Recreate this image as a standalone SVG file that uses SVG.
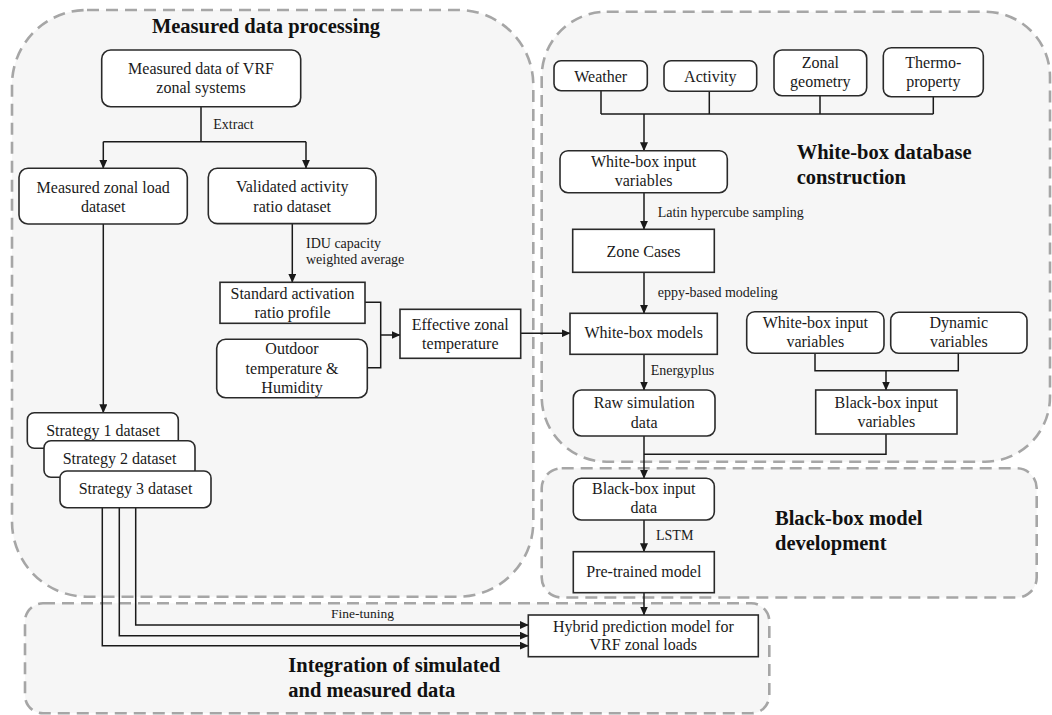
<svg xmlns="http://www.w3.org/2000/svg" width="1052" height="715" viewBox="0 0 1052 715">
<defs>
<marker id="arr" markerUnits="userSpaceOnUse" markerWidth="9" markerHeight="8" refX="8.5" refY="4" orient="auto">
<path d="M0,0 L9,4 L0,8 z" fill="#1a1a1a"/>
</marker>
<style>
.region{fill:#f6f6f6;stroke:#a6a6a6;stroke-width:2.6;stroke-dasharray:12 7}
.box{fill:#ffffff;stroke:#2a2a2a;stroke-width:1.6}
.t{font-family:"Liberation Serif","Times New Roman",serif;font-size:16px;fill:#1a1a1a;text-anchor:middle}
.lbl{font-family:"Liberation Serif","Times New Roman",serif;font-size:14px;fill:#1a1a1a}
.title{font-family:"Liberation Serif","Times New Roman",serif;font-size:20.5px;font-weight:bold;fill:#111}
.c{fill:none;stroke:#1a1a1a;stroke-width:1.5}
.ca{fill:none;stroke:#1a1a1a;stroke-width:1.5;marker-end:url(#arr)}
</style>
</defs>
<rect width="1052" height="715" fill="#ffffff"/>

<g id="regions">
<rect id="region-measured" class="region" x="12" y="10" width="521.3" height="586.7" rx="75" ry="75"/>
<rect id="region-whitebox" class="region" x="541.7" y="11.7" width="508.3" height="450" rx="65" ry="65"/>
<rect id="region-blackbox" class="region" x="541.7" y="468.3" width="495" height="129.2" rx="20" ry="20"/>
<rect id="region-integration" class="region" x="25" y="603.3" width="744.3" height="110" rx="18" ry="18"/>
<text class="title" x="266" y="33.3" text-anchor="middle">Measured data processing</text>
<text class="title" x="796.7" y="159">White-box database</text>
<text class="title" x="796.7" y="184.3">construction</text>
<text class="title" x="775" y="525">Black-box model</text>
<text class="title" x="775" y="550">development</text>
<text class="title" x="288.3" y="671.7">Integration of simulated</text>
<text class="title" x="288.3" y="696.7">and measured data</text>
</g>

<g id="connectors">
<path class="c" d="M201,106.7 V141.7 M103.3,141.7 H306"/>
<path class="ca" d="M103.3,141.7 V168.3"/>
<path class="ca" d="M306,141.7 V168.3"/>
<text class="lbl" x="213.3" y="129.3">Extract</text>
<path class="ca" d="M103.3,224 V412.7"/>
<path class="ca" d="M292.3,224 V282.3"/>
<text class="lbl" x="306" y="248.3">IDU capacity</text>
<text class="lbl" x="306" y="264.3">weighted average</text>
<path class="c" d="M365,302.3 H380.7 V367.7 H367.3"/>
<path class="ca" d="M380.7,335 H400"/>
<path class="ca" d="M520.7,333.3 H570"/>
<path class="ca" d="M102.3,507.7 V645.7 H528.3"/>
<path class="ca" d="M119.3,507.7 V635.7 H528.3"/>
<path class="ca" d="M135.7,507.7 V625 H528.3"/>
<text class="lbl" x="362.5" y="618.3" text-anchor="middle" style="font-size:13.5px">Fine-tuning</text>
<path class="c" d="M601,90.7 V114 M709.3,91.3 V114 M820,95.7 V114 M933.3,96.7 V114 M601,114 H933.3"/>
<path class="ca" d="M644,114 V150.7"/>
<path class="ca" d="M644,192.7 V229.3"/>
<text class="lbl" x="657.7" y="216.7">Latin hypercube sampling</text>
<path class="ca" d="M644,272.3 V313.3"/>
<text class="lbl" x="657.7" y="296.7">eppy-based modeling</text>
<path class="ca" d="M644,354.3 V390"/>
<text class="lbl" x="650.7" y="375">Energyplus</text>
<path class="c" d="M815,353.3 V370.7 H958.3 V353.3"/>
<path class="ca" d="M886,370.7 V390"/>
<path class="c" d="M886,434 V454.3 H644"/>
<path class="ca" d="M644,436 V478.3"/>
<path class="ca" d="M644,520 V551.7"/>
<text class="lbl" x="656" y="540">LSTM</text>
<path class="ca" d="M644,592.7 V615"/>
</g>

<g id="node-measured-vrf">
<rect class="box" x="101.7" y="50" width="199" height="56.7" rx="9"/>
<text class="t" x="201" y="74.3">Measured data of VRF</text>
<text class="t" x="201" y="93.3">zonal systems</text>
</g>
<g id="node-measured-load">
<rect class="box" x="19" y="168.3" width="168.3" height="55.7" rx="9"/>
<text class="t" x="103.2" y="193.3">Measured zonal load</text>
<text class="t" x="103.2" y="212.3">dataset</text>
</g>
<g id="node-validated">
<rect class="box" x="208.3" y="168.3" width="167.7" height="55.3" rx="9"/>
<text class="t" x="292.2" y="192.3">Validated activity</text>
<text class="t" x="292.2" y="211.7">ratio dataset</text>
</g>
<g id="node-standard">
<rect class="box" x="220" y="282.3" width="145" height="41" />
<text class="t" x="292.5" y="299.3">Standard activation</text>
<text class="t" x="292.5" y="318.3">ratio profile</text>
</g>
<g id="node-outdoor">
<rect class="box" x="216.7" y="339.3" width="150.6" height="58.4" rx="9"/>
<text class="t" x="292" y="354.3">Outdoor</text>
<text class="t" x="292" y="374">temperature &amp;</text>
<text class="t" x="292" y="392.7">Humidity</text>
</g>
<g id="node-effective">
<rect class="box" x="400" y="309.3" width="120.7" height="49" />
<text class="t" x="460.3" y="330">Effective zonal</text>
<text class="t" x="460.3" y="349.3">temperature</text>
</g>
<g id="node-strategy1">
<rect class="box" x="27.3" y="412.7" width="151" height="35.6" rx="7"/>
<text class="t" x="103" y="435.7">Strategy 1 dataset</text>
</g>
<g id="node-strategy2">
<rect class="box" x="44" y="440.7" width="151" height="36.6" rx="7"/>
<text class="t" x="119.5" y="464">Strategy 2 dataset</text>
</g>
<g id="node-strategy3">
<rect class="box" x="60" y="471" width="151" height="36.7" rx="7"/>
<text class="t" x="135.5" y="494.3">Strategy 3 dataset</text>
</g>
<g id="node-weather">
<rect class="box" x="554" y="60.7" width="93.3" height="30" rx="7"/>
<text class="t" x="600.7" y="81.7">Weather</text>
</g>
<g id="node-activity">
<rect class="box" x="664" y="60.7" width="92.7" height="30.6" rx="7"/>
<text class="t" x="710.3" y="81.7">Activity</text>
</g>
<g id="node-zonal-geometry">
<rect class="box" x="774" y="50" width="92.7" height="45.7" rx="8"/>
<text class="t" x="820.3" y="68.3">Zonal</text>
<text class="t" x="820.3" y="87.3">geometry</text>
</g>
<g id="node-thermo">
<rect class="box" x="883.3" y="47.7" width="100" height="49" rx="8"/>
<text class="t" x="933.3" y="68.3">Thermo-</text>
<text class="t" x="933.3" y="87.3">property</text>
</g>
<g id="node-wb-input">
<rect class="box" x="560" y="150.7" width="167.3" height="42" rx="8"/>
<text class="t" x="643.6" y="166.7">White-box input</text>
<text class="t" x="643.6" y="185.7">variables</text>
</g>
<g id="node-zone-cases">
<rect class="box" x="572.7" y="229.3" width="141.6" height="43" />
<text class="t" x="643.5" y="256.7">Zone Cases</text>
</g>
<g id="node-wb-models">
<rect class="box" x="570" y="313.3" width="147.3" height="41" />
<text class="t" x="643.7" y="338.3">White-box models</text>
</g>
<g id="node-raw-sim">
<rect class="box" x="573.3" y="390" width="141.7" height="46" rx="8"/>
<text class="t" x="644.2" y="408.3">Raw simulation</text>
<text class="t" x="644.2" y="427.7">data</text>
</g>
<g id="node-wb-input2">
<rect class="box" x="746.7" y="311.7" width="137.3" height="41.6" rx="8"/>
<text class="t" x="815.3" y="328.3">White-box input</text>
<text class="t" x="815.3" y="347.3">variables</text>
</g>
<g id="node-dynamic">
<rect class="box" x="890.7" y="312.3" width="136.3" height="41" rx="8"/>
<text class="t" x="958.8" y="328.3">Dynamic</text>
<text class="t" x="958.8" y="347.3">variables</text>
</g>
<g id="node-bb-input-vars">
<rect class="box" x="815.7" y="390" width="141.3" height="44" />
<text class="t" x="886.3" y="408.3">Black-box input</text>
<text class="t" x="886.3" y="427.3">variables</text>
</g>
<g id="node-bb-input-data">
<rect class="box" x="573.3" y="478.3" width="141" height="41.7" rx="8"/>
<text class="t" x="643.8" y="494">Black-box input</text>
<text class="t" x="643.8" y="512.7">data</text>
</g>
<g id="node-pretrained">
<rect class="box" x="573.3" y="551.7" width="141" height="41" />
<text class="t" x="643.8" y="577.3">Pre-trained model</text>
</g>
<g id="node-hybrid">
<rect class="box" x="528.3" y="615" width="230" height="41.7" />
<text class="t" x="643.3" y="631.7">Hybrid prediction model for</text>
<text class="t" x="643.3" y="650">VRF zonal loads</text>
</g>
</svg>
